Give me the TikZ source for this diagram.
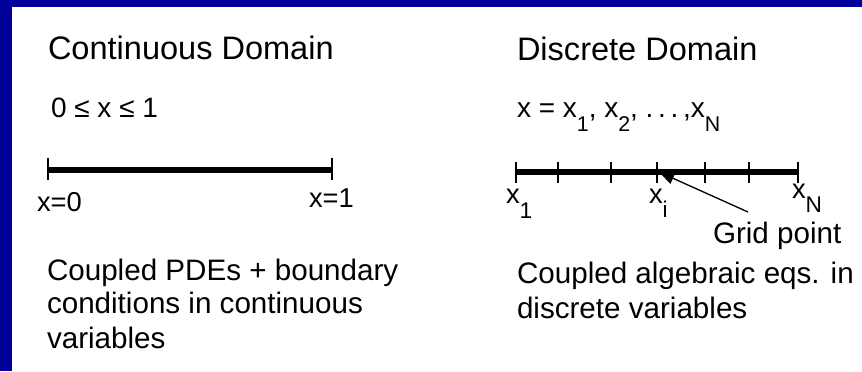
\documentclass[tikz,border=0pt]{standalone}
\usepackage{fontspec}
\setmainfont{Liberation Sans}
\usetikzlibrary{arrows.meta}
\definecolor{frameblue}{RGB}{0,0,153}
\newcommand{\lsub}[3]{\raisebox{#2}{\fontsize{#3}{#3}\selectfont #1}}
\begin{document}
\begin{tikzpicture}[x=0.75pt,y=-0.75pt,
  txt/.style={anchor=base west,inner sep=0pt,outer sep=0pt,text=black},
  head/.style={txt,font=\fontsize{24.4}{28}\selectfont},
  body/.style={txt,font=\fontsize{22.2}{26}\selectfont},
  eqn/.style={txt,font=\fontsize{21}{24}\selectfont},
  lbl/.style={txt,font=\fontsize{20.5}{24}\selectfont},
  sublbl/.style={txt,font=\fontsize{20.5}{24}\selectfont},
  axis/.style={line width=4pt,line cap=butt},
  tick/.style={line width=1.1pt}]
\fill[frameblue] (0,0) rectangle (862,371);
\fill[white] (12,7) rectangle (862,371);
\useasboundingbox (0,0) rectangle (862,371);

% ---------- continuous domain ----------
\node[head] (ch) at (48,59) {Continuous Domain};
\node[eqn] (ceq) at (51,117) {0 ≤ x ≤ 1};
\coordinate (c0) at (48,170);
\coordinate (c1) at (332,170);
\draw[axis] (c0) -- (c1);
\draw[tick] ([yshift=-10*0.75pt]c0) -- ([yshift=12*0.75pt]c0);
\draw[tick] ([yshift=-10*0.75pt]c1) -- ([yshift=12*0.75pt]c1);
\node[lbl] (cl0) at (37,211) {x=0};
\node[lbl] (cl1) at (309,207) {x=1};
\node[body] (cb1) at (47,280) {Coupled PDEs + boundary};
\node[body] (cb2) at (47,313) {conditions in continuous};
\node[body] (cb3) at (47,348) {variables};

% ---------- discrete domain ----------
\node[head] (dh) at (517,60) {Discrete Domain};
\node[txt,font=\fontsize{21}{24}\selectfont] (deq) at (517,117)
  {x = x\lsub{1}{-11pt}{16}, x\lsub{2}{-11pt}{16}, .\,.\,.\,,x\lsub{N}{-11pt}{16}};
\coordinate (d0) at (516,172);
\coordinate (dN) at (798,172);
\draw[axis] (d0) -- (dN);
\foreach \tx in {516,558,611,657,705,749,798}
  \draw[tick] (\tx,162) -- (\tx,183);
\node[sublbl] (dl1) at (506,203) {x\lsub{1}{-11.5pt}{17}};
\node[sublbl] (dli) at (649,203) {x\lsub{i}{-11pt}{17}};
\node[sublbl] (dlN) at (792,198) {x\lsub{N}{-10.5pt}{17}};
\coordinate (gp) at (748,212);
\coordinate (xi) at (659,172);
\draw[line width=1pt,-{Triangle[length=11.5pt,width=9pt]}] (gp) -- (xi);
\node[body] (gpl) at (713,243) {Grid point};
\node[body] (db1) at (517,283) {Coupled algebraic eqs. in};
\node[body] (db2) at (517,318) {discrete variables};
\end{tikzpicture}
\end{document}
